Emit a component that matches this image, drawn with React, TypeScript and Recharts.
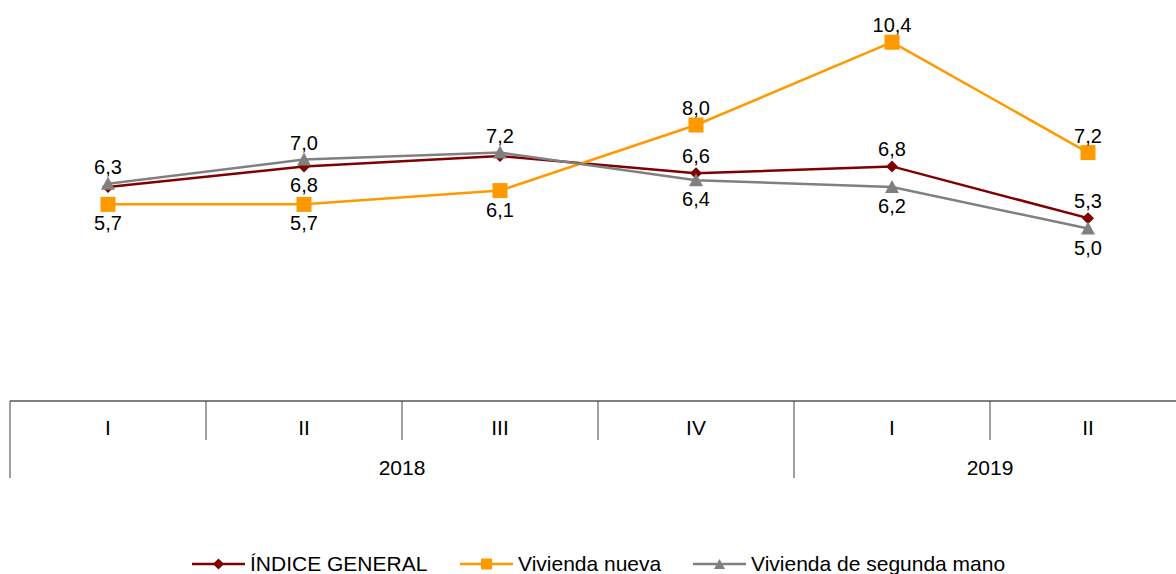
import * as React from 'react';
import { LineChart, Line, XAxis, YAxis, LabelList } from 'recharts';

const quarters = ['I', 'II', 'III', 'IV', 'I', 'II'];
const years = ['2018', '2018', '2018', '2018', '2019', '2019'];
const indiceGeneral = [6.2, 6.8, 7.1, 6.6, 6.8, 5.3];
const viviendaNueva = [5.7, 5.7, 6.1, 8.0, 10.4, 7.2];
const viviendaSegunda = [6.3, 7.0, 7.2, 6.4, 6.2, 5.0];

// where each value label sits: above / below / none
const generalLabels = ['none', 'below', 'none', 'above', 'above', 'above'];
const nuevaLabels = ['below', 'below', 'below', 'above', 'above', 'above'];
const segundaLabels = ['above', 'above', 'above', 'below', 'below', 'below'];

const RED = '#800000';
const ORANGE = '#FF9900';
const GRAY = '#808080';
const FONT = '"Liberation Sans", Arial, sans-serif';

const CHART_W = 1190;
const CHART_H = 594;
const MARGIN = { top: 7, right: 4, left: 10, bottom: 93 };
const BAND = (CHART_W - MARGIN.left - MARGIN.right) / quarters.length;

const data = quarters.map((q, i) => ({
	key: years[i] + '-' + q,
	general: indiceGeneral[i],
	nueva: viviendaNueva[i],
	segunda: viviendaSegunda[i]
}));

const fmt = (v: number) => v.toFixed(1).replace('.', ',');

const Diamond = ({ cx, cy, s = 6 }: any) => (
	<path d={`M${cx},${cy - s}L${cx + s},${cy}L${cx},${cy + s}L${cx - s},${cy}Z`} fill={RED} />
);
const Square = ({ cx, cy, s = 7.5 }: any) => (
	<rect x={cx - s} y={cy - s} width={s * 2} height={s * 2} fill={ORANGE} />
);
const Triangle = ({ cx, cy, s = 7 }: any) => (
	<path d={`M${cx},${cy - s}L${cx + s},${cy + s - 1}L${cx - s},${cy + s - 1}Z`} fill={GRAY} />
);

const makeLabel = (places: string[]) => (props: any) => {
	const { x, y, value, index } = props;
	const p = places[index];
	if (p === 'none') return null;
	const dy = p === 'above' ? -17 : 19;
	return (
		<text
			x={x}
			y={y + dy}
			textAnchor="middle"
			dominantBaseline="central"
			fontSize={20}
			fontFamily={FONT}
			fill="#000"
		>
			{fmt(value)}
		</text>
	);
};

const QuarterTick = (props: any) => {
	const { x, y, index } = props;
	const left = x - BAND / 2;
	const yearStart = index === 0 || years[index] !== years[index - 1];
	let yearLabel = null;
	if (yearStart) {
		const count = years.filter(v => v === years[index]).length;
		yearLabel = (
			<text
				x={left + (count * BAND) / 2}
				y={y + 66}
				textAnchor="middle"
				dominantBaseline="central"
				fontSize={21}
				fontFamily={FONT}
				fill="#000"
			>
				{years[index]}
			</text>
		);
	}
	return (
		<g>
			<line x1={left} x2={left} y1={y} y2={yearStart ? y + 77 : y + 39} stroke="#404040" strokeWidth={1} />
			<text
				x={x}
				y={y + 26}
				textAnchor="middle"
				dominantBaseline="central"
				fontSize={21}
				fontFamily={FONT}
				fill="#000"
			>
				{quarters[index]}
			</text>
			{yearLabel}
		</g>
	);
};

const legendItems = [
	{ name: 'ÍNDICE GENERAL', color: RED, marker: 'diamond', left: 192 },
	{ name: 'Vivienda nueva', color: ORANGE, marker: 'square', left: 460 },
	{ name: 'Vivienda de segunda mano', color: GRAY, marker: 'triangle', left: 693 }
];

const LegendMarker = ({ color, marker }: any) => (
	<svg width={53} height={14} style={{ marginRight: 5 }}>
		<line x1={0} x2={53} y1={7} y2={7} stroke={color} strokeWidth={2.5} />
		{marker === 'diamond' && <path d="M26.5,1.5L32,7L26.5,12.5L21,7Z" fill={color} />}
		{marker === 'square' && <rect x={21} y={1.5} width={11} height={11} fill={color} />}
		{marker === 'triangle' && <path d="M26.5,2L32,12L21,12Z" fill={color} />}
	</svg>
);

export default function App() {
	return (
		<div style={{ position: 'relative', width: 1176, height: 574, overflow: 'hidden', background: '#fff' }}>
			<style>{'body{margin:0}'}</style>
			<div style={{ position: 'absolute', left: 0, top: -20 }}>
				<LineChart width={CHART_W} height={CHART_H} data={data} margin={MARGIN}>
					<XAxis
						dataKey="key"
						scale="band"
						height={80}
						tickLine={false}
						tickSize={0}
						tickMargin={0}
						interval={0}
						axisLine={{ stroke: '#000', strokeWidth: 1 }}
						tick={<QuarterTick />}
					/>
					<YAxis hide domain={[0, 12]} />
					<Line
						dataKey="general"
						stroke={RED}
						strokeWidth={2.5}
						dot={(p: any) => <Diamond key={'g' + p.index} cx={p.cx} cy={p.cy} />}
						isAnimationActive={false}
					>
						<LabelList dataKey="general" content={makeLabel(generalLabels)} />
					</Line>
					<Line
						dataKey="nueva"
						stroke={ORANGE}
						strokeWidth={2.5}
						dot={(p: any) => <Square key={'n' + p.index} cx={p.cx} cy={p.cy} />}
						isAnimationActive={false}
					>
						<LabelList dataKey="nueva" content={makeLabel(nuevaLabels)} />
					</Line>
					<Line
						dataKey="segunda"
						stroke={GRAY}
						strokeWidth={2.5}
						dot={(p: any) => <Triangle key={'s' + p.index} cx={p.cx} cy={p.cy} />}
						isAnimationActive={false}
					>
						<LabelList dataKey="segunda" content={makeLabel(segundaLabels)} />
					</Line>
				</LineChart>
			</div>
			{legendItems.map(it => (
				<div
					key={it.name}
					style={{
						position: 'absolute',
						left: it.left,
						top: 552,
						height: 24,
						display: 'flex',
						alignItems: 'center',
						fontFamily: FONT,
						fontSize: 21,
						color: '#000',
						whiteSpace: 'nowrap'
					}}
				>
					<LegendMarker color={it.color} marker={it.marker} />
					<span>{it.name}</span>
				</div>
			))}
		</div>
	);
}
